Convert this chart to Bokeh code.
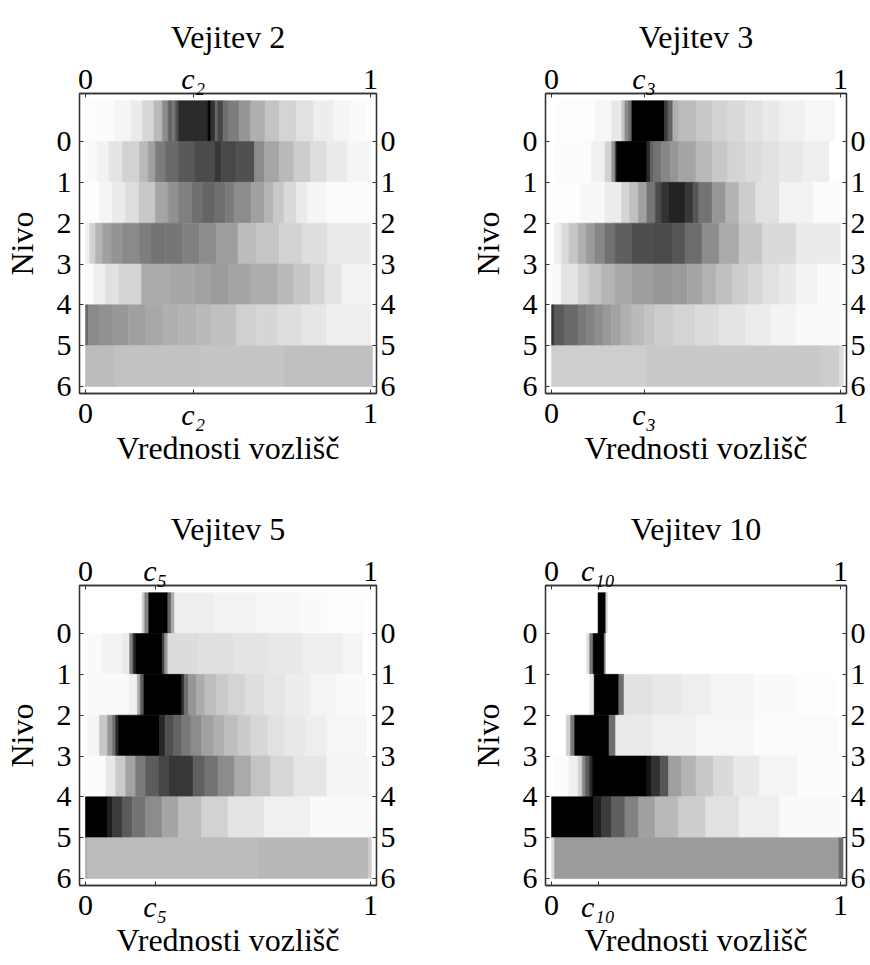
from bokeh.plotting import figure
from bokeh.models import Range1d, FixedTicker, LinearAxis, ColumnDataSource
from bokeh.layouts import column, row
from bokeh.embed import file_html
from bokeh.resources import INLINE

# ---------------- data ----------------
levels = [0, 1, 2, 3, 4, 5, 6]
titles = ["Vejitev 2", "Vejitev 3", "Vejitev 5", "Vejitev 10"]
c_values = [0.378, 0.32, 0.244, 0.161]
c_texts = ["c₂", "c₃", "c₅", "c₁₀"]
x_ticks_ends = [0, 1]
x_label = "Vrednosti vozlišč"
y_label = "Nivo"

# each panel: for every level a list of cell edges (node value) and grey levels (0 black .. 255 white)
edges_v2 = [
    [0.014, 0.10, 0.16, 0.20, 0.24, 0.27, 0.29, 0.305, 0.315, 0.326, 0.43, 0.44, 0.455, 0.465, 0.483, 0.50, 0.54, 0.58, 0.63, 0.68, 0.74, 0.80, 0.87, 0.93, 0.986],
    [0.0, 0.04, 0.083, 0.13, 0.19, 0.22, 0.245, 0.28, 0.326, 0.384, 0.454, 0.477, 0.53, 0.593, 0.627, 0.68, 0.731, 0.79, 0.847, 0.92, 1.0],
    [0.0, 0.05, 0.095, 0.14, 0.1875, 0.245, 0.29, 0.326, 0.373, 0.41, 0.454, 0.49, 0.523, 0.581, 0.627, 0.66, 0.697, 0.74, 0.778, 0.847, 1.0],
    [0.0, 0.015, 0.035, 0.06, 0.09, 0.13, 0.19, 0.23, 0.28, 0.34, 0.40, 0.46, 0.535, 0.60, 0.68, 0.76, 0.85, 1.0],
    [0.0, 0.03, 0.07, 0.118, 0.197, 0.30, 0.384, 0.44, 0.5, 0.58, 0.674, 0.73, 0.789, 0.84, 0.9, 1.0],
    [0.0, 0.0104, 0.05, 0.095, 0.15, 0.211, 0.27, 0.326, 0.39, 0.442, 0.529, 0.6, 0.674, 0.76, 0.847, 1.0],
    [0.0, 0.1, 0.4, 0.7, 1.007],
]
gray_v2 = [
    [252, 245, 235, 215, 185, 140, 100, 120, 80, 42, 0, 50, 100, 70, 110, 125, 150, 175, 195, 212, 225, 237, 245, 250],
    [250, 242, 228, 210, 185, 160, 125, 105, 88, 75, 55, 72, 80, 140, 165, 185, 205, 222, 235, 245],
    [253, 245, 235, 222, 200, 165, 145, 128, 112, 100, 110, 122, 140, 160, 180, 200, 218, 235, 245, 252],
    [240, 210, 180, 160, 148, 138, 125, 115, 118, 128, 140, 158, 188, 198, 210, 222, 235],
    [250, 238, 225, 212, 170, 167, 162, 155, 165, 172, 185, 198, 212, 228, 242],
    [105, 138, 145, 152, 160, 168, 175, 180, 186, 192, 208, 214, 222, 230, 238],
    [188, 194, 197, 192],
]

edges_v3 = [
    [0.0105, 0.15, 0.208, 0.243, 0.254, 0.266, 0.278, 0.391, 0.403, 0.42, 0.44, 0.5, 0.556, 0.61, 0.672, 0.73, 0.789, 0.88, 0.98],
    [0.01, 0.138, 0.185, 0.208, 0.22, 0.225, 0.33, 0.341, 0.353, 0.38, 0.41, 0.44, 0.5, 0.556, 0.61, 0.672, 0.73, 0.789, 0.87, 0.96],
    [0.0, 0.1, 0.185, 0.243, 0.27, 0.301, 0.33, 0.359, 0.38, 0.405, 0.463, 0.49, 0.51, 0.556, 0.603, 0.649, 0.707, 0.789, 0.905, 1.0],
    [0.01, 0.034, 0.06, 0.092, 0.12, 0.15, 0.185, 0.22, 0.278, 0.35, 0.417, 0.463, 0.521, 0.58, 0.649, 0.731, 0.847, 1.0],
    [0.0, 0.034, 0.092, 0.13, 0.173, 0.22, 0.278, 0.35, 0.417, 0.47, 0.521, 0.57, 0.626, 0.68, 0.731, 0.79, 0.847, 0.92, 1.0],
    [0.0, 0.0105, 0.045, 0.092, 0.12, 0.15, 0.18, 0.208, 0.24, 0.278, 0.32, 0.359, 0.42, 0.498, 0.58, 0.672, 0.76, 0.847, 1.0],
    [0.0, 0.33, 0.93, 0.997, 1.01],
]
gray_v3 = [
    [253, 247, 232, 195, 140, 110, 0, 60, 100, 175, 188, 200, 210, 218, 226, 233, 240, 246],
    [252, 240, 210, 150, 60, 0, 40, 95, 115, 135, 150, 165, 185, 200, 212, 220, 226, 232, 238],
    [253, 248, 236, 212, 192, 160, 118, 75, 50, 35, 55, 85, 115, 150, 180, 205, 225, 242, 251],
    [238, 218, 198, 175, 155, 135, 112, 95, 78, 74, 85, 108, 140, 170, 198, 218, 235],
    [250, 228, 210, 196, 180, 168, 158, 152, 155, 165, 178, 192, 205, 215, 225, 233, 242, 250],
    [55, 90, 105, 120, 130, 142, 152, 163, 175, 186, 196, 204, 212, 220, 228, 236, 243, 249],
    [206, 201, 205, 222],
]

edges_v5 = [
    [0.0, 0.199, 0.208, 0.222, 0.289, 0.301, 0.3125, 0.45, 0.6, 0.75, 0.85, 0.98],
    [0.008, 0.06, 0.13, 0.155, 0.167, 0.176, 0.269, 0.278, 0.289, 0.4, 0.52, 0.64, 0.76, 0.905, 0.97],
    [0.008, 0.153, 0.182, 0.193, 0.205, 0.338, 0.347, 0.361, 0.39, 0.419, 0.46, 0.5, 0.56, 0.627, 0.7, 0.789, 0.88, 0.986],
    [0.008, 0.049, 0.078, 0.095, 0.106, 0.116, 0.26, 0.28, 0.31, 0.338, 0.37, 0.407, 0.45, 0.488, 0.535, 0.581, 0.64, 0.697, 0.77, 0.847, 0.986],
    [0.008, 0.072, 0.106, 0.141, 0.176, 0.211, 0.257, 0.292, 0.378, 0.419, 0.465, 0.523, 0.581, 0.65, 0.731, 0.847, 1.0],
    [0.0, 0.078, 0.095, 0.13, 0.164, 0.211, 0.269, 0.326, 0.407, 0.5, 0.627, 0.789, 1.0],
    [0.0, 0.008, 0.604, 0.992, 1.003],
]
gray_v5 = [
    [255, 200, 130, 0, 100, 170, 238, 242, 246, 250, 253],
    [250, 243, 235, 130, 40, 0, 60, 150, 220, 224, 228, 232, 238, 245],
    [250, 240, 170, 90, 0, 50, 110, 150, 172, 190, 202, 212, 222, 230, 237, 244, 250],
    [245, 200, 150, 110, 40, 0, 40, 80, 100, 120, 140, 160, 175, 190, 203, 215, 225, 232, 238, 246],
    [252, 232, 202, 162, 122, 92, 70, 55, 95, 115, 140, 170, 195, 215, 230, 245],
    [0, 30, 60, 90, 115, 140, 165, 190, 210, 228, 240, 250],
    [172, 188, 184, 205],
]

edges_v10 = [
    [0.01, 0.161, 0.188, 0.196, 0.98],
    [0.01, 0.121, 0.132, 0.144, 0.182, 0.188, 0.98],
    [0.01, 0.132, 0.1475, 0.233, 0.251, 0.35, 0.45, 0.55, 0.7, 0.85, 0.98],
    [0.01, 0.051, 0.066, 0.08, 0.199, 0.222, 0.35, 0.5, 0.7, 0.99],
    [0.01, 0.06, 0.092, 0.106, 0.117, 0.132, 0.142, 0.33, 0.347, 0.376, 0.405, 0.45, 0.5, 0.56, 0.63, 0.72, 0.85, 1.0],
    [0.0, 0.146, 0.173, 0.208, 0.254, 0.301, 0.359, 0.44, 0.533, 0.649, 0.789, 1.0],
    [0.0, 0.0105, 0.995, 1.009],
]
gray_v10 = [
    [255, 0, 215, 255],
    [255, 225, 120, 0, 120, 255],
    [255, 235, 0, 110, 226, 232, 238, 244, 250, 253],
    [255, 205, 120, 0, 110, 234, 240, 246, 251],
    [252, 240, 210, 140, 90, 40, 0, 20, 50, 85, 160, 180, 200, 218, 232, 244, 252],
    [0, 30, 60, 95, 130, 160, 185, 205, 225, 238, 250],
    [220, 155, 110],
]

all_edges = [edges_v2, edges_v3, edges_v5, edges_v10]
all_gray = [gray_v2, gray_v3, gray_v5, gray_v10]

# ---------------- styling ----------------
FONT = "Liberation Serif"
TICK_SIZE = "30px"
TEXT_SIZE = "32px"
LINE = "#333333"
LABEL_H = 28  # extent of one row of 30px tick labels (used to lay the c label over that row)

X0, X1 = -0.021, 1.021
Y_TOP, Y_BOT = -1.176, 6.171


def gray_hex(g):
    return "#%02x%02x%02x" % (g, g, g)


def style_axis(ax, ticks, standoff):
    ax.ticker = FixedTicker(ticks=ticks)
    ax.major_tick_in = 4
    ax.major_tick_out = 0
    ax.minor_tick_in = 0
    ax.minor_tick_out = 0
    ax.axis_line_color = LINE
    ax.axis_line_width = 1.3
    ax.major_tick_line_color = LINE
    ax.major_tick_line_width = 1
    ax.major_label_text_font = FONT
    ax.major_label_text_font_size = TICK_SIZE
    ax.major_label_text_color = "black"
    ax.major_label_standoff = standoff


def style_axis_label(ax, standoff):
    ax.axis_label_text_font = FONT
    ax.axis_label_text_font_size = TEXT_SIZE
    ax.axis_label_text_font_style = "normal"
    ax.axis_label_text_color = "black"
    ax.axis_label_standoff = standoff


def c_axis(c, text):
    # italic label for the c tick, laid over the row of the upright 0 / 1 labels
    ax = LinearAxis()
    style_axis(ax, [c], -LABEL_H)
    ax.axis_line_color = None
    ax.major_tick_line_color = None
    ax.major_label_text_font_style = "italic"
    ax.major_label_overrides = {c: text}
    return ax


def make_panel(i):
    left_col = i % 2 == 0
    top_row = i < 2
    h = 492 if top_row else 473
    p = figure(width=435, height=h,
               x_range=Range1d(X0, X1), y_range=Range1d(Y_BOT, Y_TOP),
               output_backend="svg", toolbar_location=None,
               x_axis_location=None, y_axis_location=None,
               min_border_left=76 if left_col else 110,
               min_border_right=59 if left_col else 24,
               min_border_top=93, min_border_bottom=99 if top_row else 80,
               background_fill_color="white", border_fill_color="white")
    p.grid.grid_line_color = None
    p.outline_line_color = LINE
    p.outline_line_width = 1.3

    lefts, rights, tops, bottoms, colors = [], [], [], [], []
    for lev, ed, gr in zip(levels, all_edges[i], all_gray[i]):
        for k, g in enumerate(gr):
            lefts.append(ed[k])
            rights.append(ed[k + 1])
            tops.append(lev - 1)
            bottoms.append(lev)
            colors.append(gray_hex(g))
    src = ColumnDataSource(dict(left=lefts, right=rights, top=tops, bottom=bottoms, color=colors))
    p.quad(left="left", right="right", top="top", bottom="bottom", source=src,
           fill_color="color", line_color="color", line_width=0.6)

    c = c_values[i]
    xt = [x_ticks_ends[0], c, x_ticks_ends[1]]

    top_ax = LinearAxis()
    style_axis(top_ax, xt, 5)
    top_ax.major_label_overrides = {c: ""}
    p.add_layout(top_ax, "above")
    p.add_layout(c_axis(c, c_texts[i]), "above")

    bot_ax = LinearAxis()
    style_axis(bot_ax, xt, 10)
    bot_ax.major_label_overrides = {c: ""}
    p.add_layout(bot_ax, "below")
    bot_c = c_axis(c, c_texts[i])
    bot_c.axis_label = x_label
    style_axis_label(bot_c, -4)
    p.add_layout(bot_c, "below")

    axl = LinearAxis(axis_label=y_label)
    style_axis(axl, levels, 8)
    style_axis_label(axl, 14)
    p.add_layout(axl, "left")

    axr = LinearAxis()
    style_axis(axr, levels, 4)
    p.add_layout(axr, "right")

    p.title.text = titles[i]
    p.title.align = "center"
    p.title.text_font = FONT
    p.title.text_font_size = TEXT_SIZE
    p.title.text_font_style = "normal"
    p.title.text_color = "black"
    p.title.standoff = 7
    return p


panels = [make_panel(i) for i in range(4)]
layout = column(row(panels[0], panels[1]), row(panels[2], panels[3]))
open("out.html", "w").write(file_html(layout, INLINE))
